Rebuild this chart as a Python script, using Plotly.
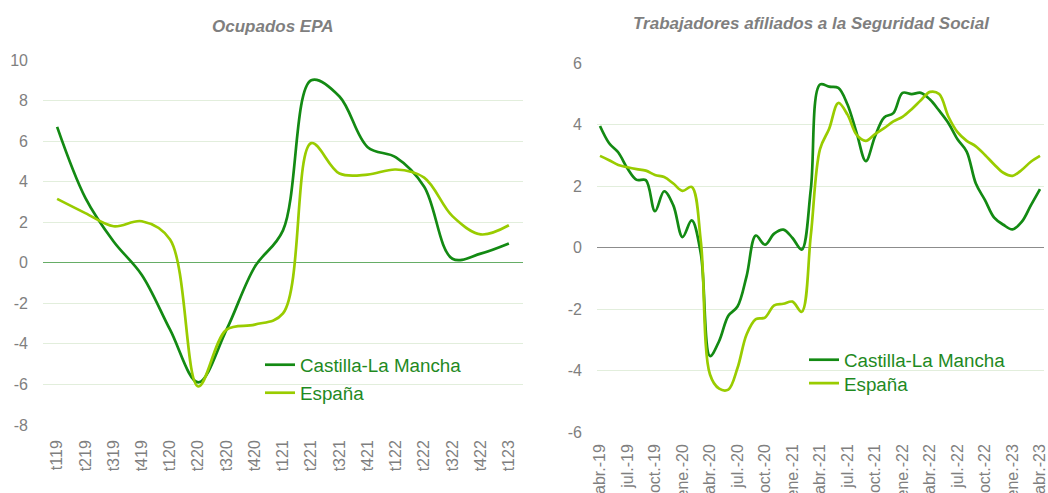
import plotly.graph_objects as go

# ---------------- data ----------------
quarters = ['t119', 't219', 't319', 't419', 't120', 't220', 't320', 't420', 't121',
            't221', 't321', 't421', 't122', 't222', 't322', 't422', 't123']
clm_epa = [6.7, 3.2, 1.05, -0.6, -3.3, -5.9, -3.3, -0.2, 1.6, 9.0, 8.2, 5.7, 5.2, 3.75, 0.2, 0.45, 0.95]
esp_epa = [3.15, 2.45, 1.8, 2.05, 1.15, -6.1, -3.3, -3.05, -2.5, 5.9, 4.4, 4.35, 4.6, 4.2, 2.3, 1.4, 1.85]
epa_yticks = [10, 8, 6, 4, 2, 0, -2, -4, -6, -8]

month_abbr = ['ene.', 'feb.', 'mar.', 'abr.', 'may.', 'jun.', 'jul.', 'ago.', 'sep.', 'oct.', 'nov.', 'dic.']
months = [f"{month_abbr[(3 + k) % 12]}-{19 + (3 + k) // 12}" for k in range(49)]  # abr.-19 .. abr.-23
month_ticks = months[::3]

clm_af = [3.95, 3.39, 3.09, 2.57, 2.20, 2.19, 1.18, 1.83, 1.37, 0.34, 0.88, -0.2, -3.53, -3.04,
          -2.22, -1.92, -0.92, 0.39, 0.09, 0.45, 0.58, 0.31, -0.07, 1.9, 5.3, 5.23, 5.19, 4.65,
          3.72, 2.81, 3.61, 4.23, 4.37, 5.03, 4.99, 5.03, 4.81, 4.45, 4.05, 3.52, 3.12, 2.08,
          1.54, 0.97, 0.74, 0.59, 0.83, 1.37, 1.90]
esp_af = [2.98, 2.84, 2.68, 2.61, 2.55, 2.50, 2.36, 2.29, 2.08, 1.84, 1.97, 0.2, -4.13, -4.59,
          -4.62, -3.92, -2.82, -2.33, -2.28, -1.88, -1.83, -1.76, -2.09, 0.4, 3.2, 3.86, 4.70,
          4.32, 3.66, 3.47, 3.69, 3.88, 4.10, 4.25, 4.50, 4.79, 5.06, 4.99, 4.26, 3.75, 3.47,
          3.29, 3.01, 2.70, 2.43, 2.33, 2.52, 2.79, 2.98]
af_yticks = [6, 4, 2, 0, -2, -4, -6]

series_names = ['Castilla-La Mancha', 'España']
titles = ['Ocupados EPA', 'Trabajadores afiliados a la Seguridad Social']

# ---------------- style ----------------
W, H = 1048, 493
C_CLM = '#138a13'
C_ESP = '#99cc00'
GRID = '#e2eedc'
TICK = '#7f7f7f'
FONT = 'Arial, Liberation Sans, sans-serif'


def px(x):
    return x / W


def py(y):
    return 1 - y / H


fig = go.Figure()
line_kw = dict(shape='spline', smoothing=1.0, width=2.7)

fig.add_trace(go.Scatter(x=quarters, y=clm_epa, name=series_names[0], mode='lines', showlegend=True,
                         line=dict(color=C_CLM, **line_kw), xaxis='x', yaxis='y', legend='legend'))
fig.add_trace(go.Scatter(x=quarters, y=esp_epa, name=series_names[1], mode='lines', showlegend=True,
                         line=dict(color=C_ESP, **line_kw), xaxis='x', yaxis='y', legend='legend2'))
fig.add_trace(go.Scatter(x=months, y=clm_af, name=series_names[0], mode='lines', showlegend=True,
                         line=dict(color=C_CLM, **line_kw), xaxis='x2', yaxis='y2', legend='legend3'))
fig.add_trace(go.Scatter(x=months, y=esp_af, name=series_names[1], mode='lines', showlegend=True,
                         line=dict(color=C_ESP, **line_kw), xaxis='x2', yaxis='y2', legend='legend4'))

tickfont = dict(family=FONT, size=16, color=TICK)

fig.update_layout(
    template='none',
    width=W, height=H, autosize=False, showlegend=True,
    margin=dict(l=0, r=0, t=0, b=0, pad=0),
    paper_bgcolor='white', plot_bgcolor='white',
    font=dict(family=FONT),
    xaxis=dict(domain=[px(43), px(523)], type='category', range=[-0.5, 16.5], automargin=False,
               showgrid=False, zeroline=False, showline=False, ticks='',
               tickangle=-90, tickfont=tickfont, ticklabelstandoff=11, anchor='y'),
    yaxis=dict(domain=[py(425), py(60)], range=[-8, 10], automargin=False,
               tickmode='array', tickvals=epa_yticks, ticktext=[str(v) for v in epa_yticks],
               showgrid=True, gridcolor=GRID, gridwidth=1,
               zeroline=True, zerolinecolor='#66ad66', zerolinewidth=1.3,
               showline=False, ticks='', tickfont=tickfont, ticklabelstandoff=14, anchor='x'),
    xaxis2=dict(domain=[px(597), px(1044)], type='category', range=[-0.327, 48.436], automargin=False,
                tickmode='array', tickvals=month_ticks, ticktext=month_ticks,
                showgrid=False, zeroline=False, showline=False, ticks='',
                tickangle=-90, tickfont=tickfont, ticklabelstandoff=8, anchor='y2'),
    yaxis2=dict(domain=[py(432), py(63)], range=[-6, 6], automargin=False,
                tickmode='array', tickvals=af_yticks, ticktext=[str(v) for v in af_yticks],
                showgrid=True, gridcolor=GRID, gridwidth=1,
                zeroline=True, zerolinecolor='#8c8c8c', zerolinewidth=1.3,
                showline=False, ticks='', tickfont=tickfont, ticklabelstandoff=14, anchor='x2'),
)

leg_font = dict(family=FONT, size=18.8, color='#1f8a1f')
leg_common = dict(xanchor='left', yanchor='middle', bgcolor='rgba(0,0,0,0)', visible=True,
                  font=leg_font, itemwidth=30, borderwidth=0)
fig.update_layout(
    legend=dict(x=px(260), y=py(365), **leg_common),
    legend2=dict(x=px(260), y=py(393), **leg_common),
    legend3=dict(x=px(804), y=py(360), **leg_common),
    legend4=dict(x=px(804), y=py(383.5), **leg_common),
)

title_font = dict(family=FONT, size=17, color='#7f7f7f', style='italic', weight='bold')
fig.add_annotation(text=titles[0], x=px(273), y=py(26), xref='paper', yref='paper',
                   xanchor='center', yanchor='middle', showarrow=False, font=title_font)
fig.add_annotation(text=titles[1], x=px(811.5), y=py(23), xref='paper', yref='paper',
                   xanchor='center', yanchor='middle', showarrow=False, font=title_font)

fig.write_html("out.html", config={'displayModeBar': False},
               post_script="document.body.style.margin='0px';")
